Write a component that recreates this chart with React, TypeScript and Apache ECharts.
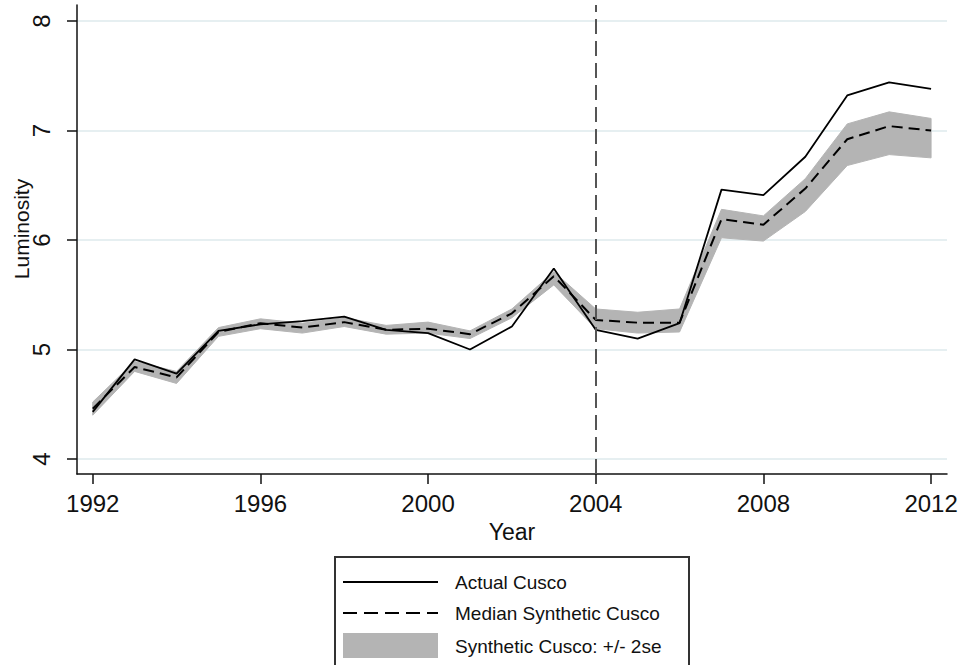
import React, { useEffect, useRef } from "react";
import * as echarts from "echarts";

const years = [1992, 1993, 1994, 1995, 1996, 1997, 1998, 1999, 2000, 2001, 2002, 2003, 2004, 2005, 2006, 2007, 2008, 2009, 2010, 2011, 2012];
const actualCusco = [4.43, 4.91, 4.78, 5.17, 5.23, 5.26, 5.30, 5.18, 5.15, 5.00, 5.21, 5.74, 5.18, 5.10, 5.24, 6.46, 6.41, 6.76, 7.32, 7.44, 7.38];
const medianSynthetic = [4.46, 4.84, 4.745, 5.16, 5.24, 5.20, 5.25, 5.18, 5.19, 5.14, 5.33, 5.67, 5.27, 5.245, 5.245, 6.19, 6.14, 6.47, 6.92, 7.04, 7.00];
const bandLower = [4.40, 4.80, 4.69, 5.12, 5.19, 5.15, 5.21, 5.14, 5.15, 5.10, 5.29, 5.59, 5.19, 5.15, 5.16, 6.02, 5.99, 6.26, 6.68, 6.78, 6.75];
const bandUpper = [4.52, 4.89, 4.80, 5.20, 5.28, 5.24, 5.29, 5.22, 5.25, 5.17, 5.37, 5.71, 5.37, 5.34, 5.37, 6.28, 6.22, 6.56, 7.06, 7.17, 7.11];
const xTicks = [1992, 1996, 2000, 2004, 2008, 2012];
const yTicks = [4, 5, 6, 7, 8];
const treatmentYear = 2004;
const legendLabels = ["Actual Cusco", "Median Synthetic Cusco", "Synthetic Cusco: +/- 2se"];

const FONT = "'Liberation Sans', Arial, sans-serif";
const BAND = "#b4b4b4";

export default function App() {
  const ref = useRef<HTMLDivElement>(null);
  useEffect(() => {
    if (!ref.current) return;
    const chart = echarts.init(ref.current, undefined, { renderer: "svg" });
    const pairs = (vals: number[]) => years.map((y, i) => [y, vals[i]]);
    const option: any = {
      animation: false,
      backgroundColor: "#ffffff",
      textStyle: { fontFamily: FONT },
      grid: { left: 77, right: 14, top: 5, bottom: 191, containLabel: false },
      xAxis: {
        type: "value",
        min: 1991.625,
        max: 2012.38,
        name: "Year",
        nameLocation: "middle",
        nameGap: 46,
        nameTextStyle: { fontSize: 23, color: "#111", fontFamily: FONT },
        axisLine: { show: true, lineStyle: { color: "#111", width: 1.5 } },
        axisTick: { show: true, length: 10, lineStyle: { color: "#111", width: 1.5 }, customValues: xTicks },
        axisLabel: { customValues: xTicks, fontSize: 24, color: "#111", margin: 17, fontFamily: FONT, formatter: (v: number) => String(v) },
        splitLine: { show: false },
      },
      yAxis: {
        type: "value",
        min: 3.863,
        max: 8.146,
        axisLine: { show: true, lineStyle: { color: "#111", width: 1.5 } },
        axisTick: { show: true, length: 10, lineStyle: { color: "#111", width: 1.5 }, customValues: yTicks },
        axisLabel: { customValues: yTicks, fontSize: 24, color: "#111", margin: 24, rotate: 90, fontFamily: FONT, formatter: (v: number) => String(v) },
        splitLine: { show: true, lineStyle: { color: "#e6eff1", width: 2 } },
      },
      series: [
        {
          type: "custom",
          name: legendLabels[2],
          data: [[years[0], bandLower[0], bandUpper[0]]],
          silent: true,
          z: 1,
          clip: true,
          renderItem: (params: any, api: any) => {
            const top = years.map((y, i) => api.coord([y, bandUpper[i]]));
            const bottom = years.map((y, i) => api.coord([y, bandLower[i]])).reverse();
            return {
              type: "polygon",
              shape: { points: top.concat(bottom) },
              style: { fill: BAND, stroke: BAND, lineWidth: 1 },
            };
          },
        },
        {
          type: "line",
          name: legendLabels[1],
          data: pairs(medianSynthetic),
          symbol: "none",
          lineStyle: { color: "#000", width: 2, type: [11, 6] },
          z: 3,
        },
        {
          type: "line",
          name: legendLabels[0],
          data: pairs(actualCusco),
          symbol: "none",
          lineStyle: { color: "#000", width: 1.8 },
          z: 4,
          markLine: {
            silent: true,
            symbol: "none",
            label: { show: false },
            lineStyle: { color: "#555", width: 2, type: [15, 7] },
            data: [{ xAxis: treatmentYear }],
          },
        },
      ],
      graphic: [
        {
          type: "text",
          x: 21,
          y: 229,
          rotation: Math.PI / 2,
          style: { text: "Luminosity", fontSize: 21, fill: "#111", fontFamily: FONT, align: "center", verticalAlign: "middle" },
        },
        {
          type: "rect",
          shape: { x: 335, y: 557, width: 354, height: 130 },
          style: { fill: "#fff", stroke: "#333", lineWidth: 2 },
        },
        {
          type: "line",
          shape: { x1: 343, y1: 582, x2: 438, y2: 582 },
          style: { stroke: "#000", lineWidth: 2 },
        },
        {
          type: "line",
          shape: { x1: 343, y1: 613, x2: 438, y2: 613 },
          style: { stroke: "#000", lineWidth: 2, lineDash: [14, 7] },
        },
        {
          type: "rect",
          shape: { x: 343, y: 633, width: 95, height: 25 },
          style: { fill: BAND },
        },
        {
          type: "text",
          x: 455,
          y: 582,
          style: { text: legendLabels[0], fontSize: 19, fill: "#111", fontFamily: FONT, align: "left", verticalAlign: "middle" },
        },
        {
          type: "text",
          x: 455,
          y: 613,
          style: { text: legendLabels[1], fontSize: 19, fill: "#111", fontFamily: FONT, align: "left", verticalAlign: "middle" },
        },
        {
          type: "text",
          x: 455,
          y: 646,
          style: { text: legendLabels[2], fontSize: 19, fill: "#111", fontFamily: FONT, align: "left", verticalAlign: "middle" },
        },
      ],
    };
    chart.setOption(option);
    return () => chart.dispose();
  }, []);
  return (
    <div
      ref={ref}
      style={{ position: "fixed", left: 0, top: 0, width: 961, height: 665, background: "#fff" }}
    />
  );
}
